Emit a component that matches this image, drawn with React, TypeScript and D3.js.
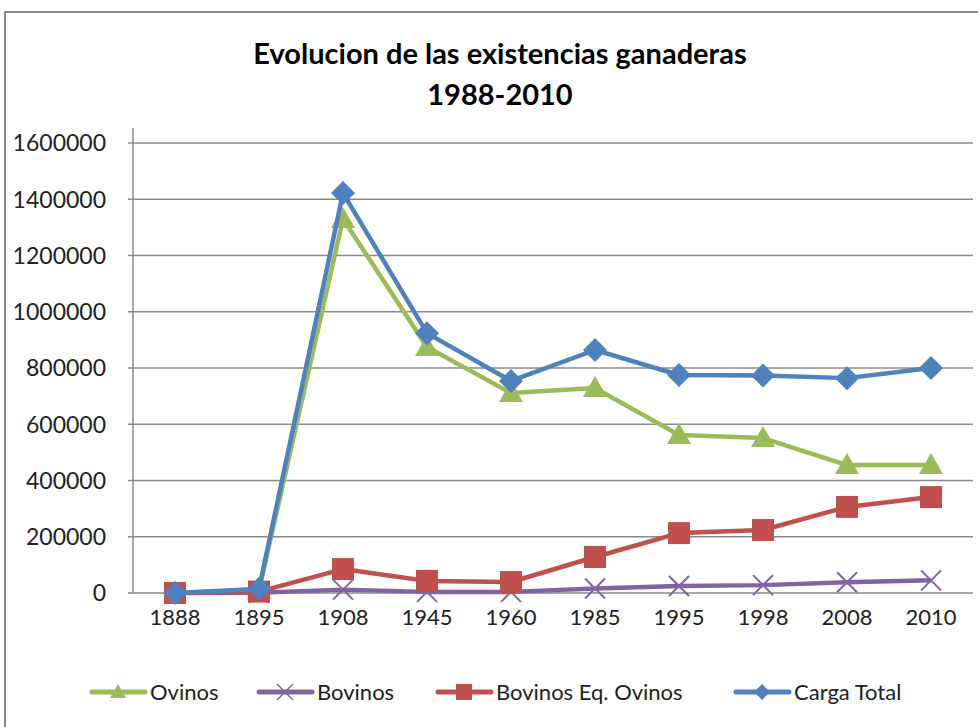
import React from 'react'
import * as d3 from 'd3'

const years = ['1888', '1895', '1908', '1945', '1960', '1985', '1995', '1998', '2008', '2010']
const ovinos = [0, 10000, 1330000, 875000, 711000, 729000, 562000, 551000, 455000, 455000]
const bovinos = [0, 1000, 12000, 4000, 4000, 16000, 25000, 28000, 38000, 45000]
const bovinosEq = [0, 5000, 85000, 43000, 39000, 128000, 213000, 224000, 306000, 341000]
const cargaTotal = [0, 15000, 1422000, 924000, 754000, 864000, 775000, 773000, 764000, 800000]
const yTicks = [0, 200000, 400000, 600000, 800000, 1000000, 1200000, 1400000, 1600000]

const series = [
  { name: 'Ovinos', values: ovinos, color: '#9BBB59', marker: 'triangle' },
  { name: 'Bovinos', values: bovinos, color: '#8064A2', marker: 'x' },
  { name: 'Bovinos Eq. Ovinos', values: bovinosEq, color: '#C0504D', marker: 'square' },
  { name: 'Carga Total', values: cargaTotal, color: '#4F81BD', marker: 'diamond' }
]
const legendX = [92, 259, 438, 736]

const font = 'Lato, "Open Sans", sans-serif'

const markerPath = (type: string, r: number) => {
  if (type === 'triangle') return `M0,${-r}L${r},${r * 0.75}L${-r},${r * 0.75}Z`
  if (type === 'square') return `M${-r},${-r}H${r}V${r}H${-r}Z`
  if (type === 'diamond') return `M0,${-r}L${r},0L0,${r}L${-r},0Z`
  return `M${-r},${-r}L${r},${r}M${r},${-r}L${-r},${r}`
}

const App = () => {
  const width = 978
  const height = 727
  const left = 133
  const right = 973

  const x = d3.scaleBand().domain(years).range([left, right])
  const y = d3.scaleLinear().domain([0, 1600000]).range([593, 143])
  const cx = (d: string) => (x(d) as number) + x.bandwidth() / 2

  const line = d3
    .line<number>()
    .x((_, i) => cx(years[i]))
    .y(d => y(d))

  const sizes: Record<string, number> = { triangle: 12, x: 10, square: 11, diamond: 12 }

  return (
    <svg width={width} height={height} style={{ position: 'absolute', left: 0, top: 0 }}>
      <rect x={0} y={0} width={width} height={height} fill='#fff' />
      <rect x={5} y={12} width={width + 20} height={height + 20} fill='none' stroke='#888' strokeWidth={2} />

      <text x={500} y={64} textAnchor='middle' fontFamily={font} fontWeight='bold' fontSize={29} fill='#000'>
        Evolucion de las existencias ganaderas
      </text>
      <text x={500} y={105} textAnchor='middle' fontFamily={font} fontWeight='bold' fontSize={29} fill='#000'>
        1988-2010
      </text>

      {/* grid + y axis */}
      {yTicks.map(t => (
        <g key={t}>
          <line x1={left - 5} x2={right} y1={y(t)} y2={y(t)} stroke='#8a8a8a' strokeWidth={1.5} />
          <text x={106} y={y(t)} dy='0.36em' textAnchor='end' fontFamily={font} fontSize={23} fill='#222'>
            {t}
          </text>
        </g>
      ))}
      <line x1={left} x2={left} y1={y(1600000) - 15} y2={y(0)} stroke='#8a8a8a' strokeWidth={1.5} />

      {/* x axis labels */}
      {years.map(d => (
        <text key={d} x={cx(d)} y={y(0) + 16} dy='0.71em' textAnchor='middle' fontFamily={font} fontSize={22} fill='#222'>
          {d}
        </text>
      ))}

      {/* series */}
      {series.map(s => (
        <g key={s.name}>
          <path d={line(s.values) as string} fill='none' stroke={s.color} strokeWidth={4.5} strokeLinejoin='round' />
          {s.values.map((v, i) => (
            <path
              key={i}
              transform={`translate(${cx(years[i])},${y(v)})`}
              d={markerPath(s.marker, sizes[s.marker])}
              fill={s.marker === 'x' ? 'none' : s.color}
              stroke={s.color}
              strokeWidth={s.marker === 'x' ? 2 : 0}
            />
          ))}
        </g>
      ))}

      {/* legend */}
      {series.map((s, i) => (
        <g key={s.name} transform={`translate(${legendX[i]},692)`}>
          <line x1={0} x2={53} y1={0} y2={0} stroke={s.color} strokeWidth={5} strokeLinecap='round' />
          <path
            transform='translate(26,0)'
            d={markerPath(s.marker, 8)}
            fill={s.marker === 'x' ? 'none' : s.color}
            stroke={s.color}
            strokeWidth={s.marker === 'x' ? 1.5 : 0}
          />
          <text x={58} y={0} dy='0.36em' fontFamily={font} fontSize={22} fill='#222'>
            {s.name}
          </text>
        </g>
      ))}
    </svg>
  )
}

export default App
